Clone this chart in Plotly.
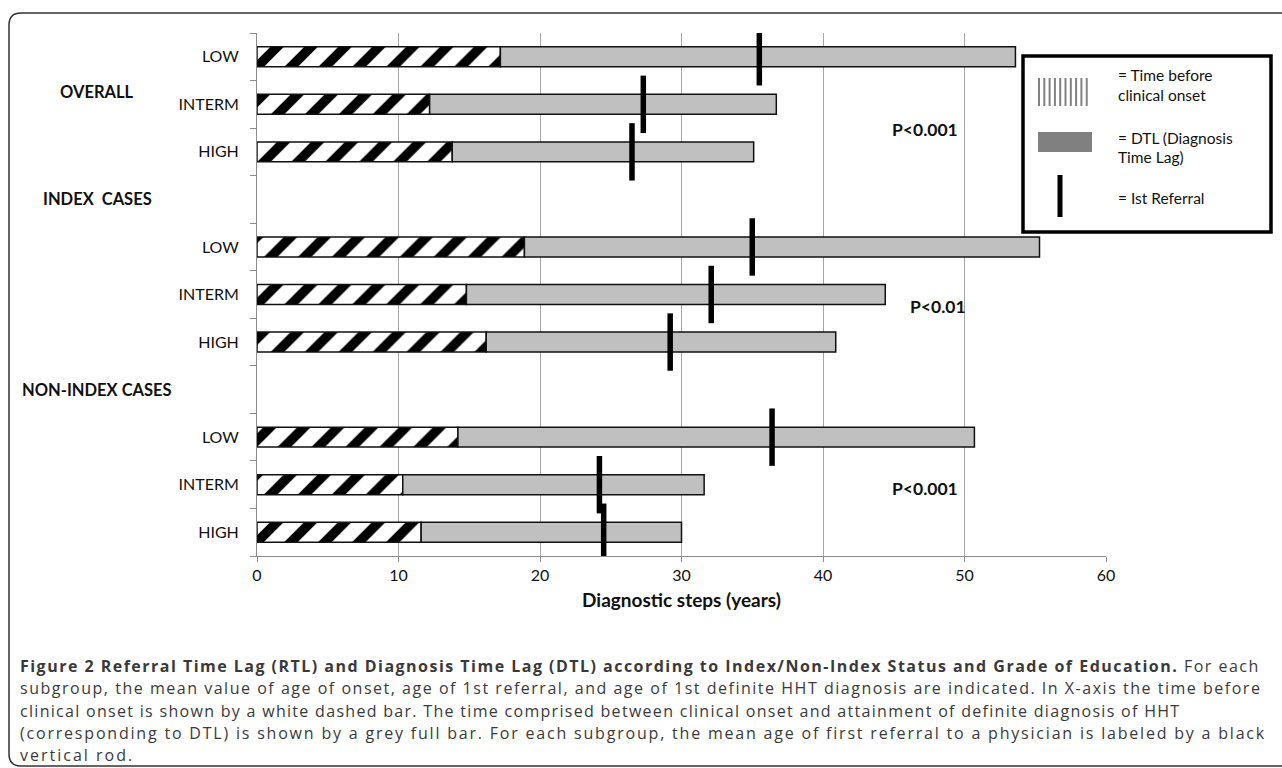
import plotly.graph_objects as go

# ---------------- data ----------------
groups = ["OVERALL", "INDEX  CASES", "NON-INDEX CASES"]
levels = ["LOW", "INTERM", "HIGH"]
onset = [17.2, 12.2, 13.8, 18.9, 14.8, 16.2, 14.2, 10.3, 11.6]       # end of time before clinical onset
referral = [35.5, 27.3, 26.5, 35.0, 32.1, 29.2, 36.4, 24.2, 24.5]    # mean age of 1st referral
diagnosis = [53.6, 36.7, 35.1, 55.3, 44.4, 40.9, 50.7, 31.6, 30.0]   # mean age of definite diagnosis
pvalues = ["P<0.001", "P<0.01", "P<0.001"]
x_ticks = [0, 10, 20, 30, 40, 50, 60]

# ---------------- geometry helpers ----------------
W, H = 1282, 768
PL, PR, PT, PB = 257, 1106, 33, 556


def px(x):
    return (x - PL) / (PR - PL)


def py(y):
    return (PB - y) / (PB - PT)


ypos = []
ylab = []
for g in range(len(groups)):
    for i, lv in enumerate(levels):
        ypos.append(g * 4 + i)
        ylab.append(lv)

dtl = [d - o for d, o in zip(diagnosis, onset)]

fig = go.Figure()

fig.add_trace(go.Bar(
    y=ypos, x=onset, base=[0] * len(onset), orientation="h",
    width=0.42,
    marker=dict(color="white", line=dict(color="#111111", width=1.5),
                pattern=dict(shape="/", fgcolor="#000000", bgcolor="white",
                             size=24, solidity=0.4, fillmode="replace")),
    showlegend=False, hoverinfo="skip",
))
fig.add_trace(go.Bar(
    y=ypos, x=dtl, base=onset, orientation="h",
    width=0.42,
    marker=dict(color="#c0c0c0", line=dict(color="#111111", width=1.5)),
    showlegend=False, hoverinfo="skip",
))
fig.add_trace(go.Scatter(
    y=ypos, x=referral, mode="markers",
    marker=dict(symbol="line-ns", size=41, color="black",
                line=dict(color="black", width=5.5)),
    showlegend=False, hoverinfo="skip",
))

CHART_FONT = "Lato"

fig.update_layout(
    width=W, height=H,
    margin=dict(l=PL, r=W - PR, t=PT, b=H - PB),
    paper_bgcolor="white", plot_bgcolor="white",
    barmode="overlay",
    font=dict(family=CHART_FONT, size=16, color="#111111"),
    xaxis=dict(
        range=[0, 60], tickvals=x_ticks, showgrid=True, gridcolor="#a6a6a6", gridwidth=1,
        zeroline=False, showline=True, linecolor="#8c8c8c", linewidth=1,
        ticks="outside", ticklen=5, tickcolor="#8c8c8c",
        tickfont=dict(family=CHART_FONT, size=16, color="#111111"),
        title=dict(text="<b>Diagnostic steps (years)</b>", standoff=10,
                   font=dict(family=CHART_FONT, size=19, color="#111111")),
    ),
    yaxis=dict(
        range=[10.5, -0.5], tickvals=ypos, ticktext=ylab, ticks="",
        showgrid=False, zeroline=False, showline=True, linecolor="#8c8c8c", linewidth=1,
        ticklabelstandoff=14,
        tickfont=dict(family=CHART_FONT, size=16, color="#111111"),
        minor=dict(tickvals=[k + 0.5 for k in range(-1, 11)], ticks="outside",
                   ticklen=6, tickcolor="#8c8c8c", showgrid=False),
    ),
)

ann = []
# group labels
group_y = [0.74, 3.0, 7.0]
for gname, gy in zip(groups, group_y):
    ann.append(dict(x=px(97), xref="paper", y=gy, yref="y", text="<b>%s</b>" % gname,
                    showarrow=False, xanchor="center", yanchor="middle",
                    font=dict(family=CHART_FONT, size=16.5, color="#111111")))
# p values
p_pos = [(47.2, 1.54), (48.1, 5.26), (47.2, 9.07)]
for t, (xx, yy) in zip(pvalues, p_pos):
    ann.append(dict(x=xx, xref="x", y=yy, yref="y", text="<b>%s</b>" % t, showarrow=False,
                    xanchor="center", yanchor="middle",
                    font=dict(family=CHART_FONT, size=17.5, color="#111111")))

# legend box texts
leg_text = [("= Time before", 75), ("clinical onset", 95), ("= DTL (Diagnosis", 138),
            ("Time Lag)", 157), ("= Ist Referral", 198)]
for t, yy in leg_text:
    ann.append(dict(x=px(1116), xref="paper", y=py(yy), yref="paper", text=t, showarrow=False,
                    xanchor="left", yanchor="middle",
                    font=dict(family=CHART_FONT, size=15.5, color="#111111")))

# caption
cap_lines = [
    "<b>Figure 2 Referral Time Lag (RTL) and Diagnosis Time Lag (DTL) according to Index/Non-Index Status and Grade of Education.</b> For each",
    "subgroup, the mean value of age of onset, age of 1st referral, and age of 1st definite HHT diagnosis are indicated. In X-axis the time before",
    "clinical onset is shown by a white dashed bar. The time comprised between clinical onset and attainment of definite diagnosis of HHT",
    "(corresponding to DTL) is shown by a grey full bar. For each subgroup, the mean age of first referral to a physician is labeled by a black",
    "vertical rod.",
]
cap_y = [666, 688, 711, 733, 755]
cap_spacing = [1.48, 1.52, 1.3, 1.8, 2.0]
for t, yy, ls in zip(cap_lines, cap_y, cap_spacing):
    ann.append(dict(x=px(18), xref="paper", y=py(yy), yref="paper",
                    text="<span style='letter-spacing:%.2fpx'>%s</span>" % (ls, t),
                    showarrow=False, xanchor="left", yanchor="middle",
                    font=dict(family="Open Sans", size=16, color="#3a3a3a")))

fig.update_layout(annotations=ann)

shapes = []
# outer rounded frame (open on the right)
r = 12
fx0, fy0, fy1, fxr = 9, 13, 766, 1300
path = ("M %f,%f L %f,%f Q %f,%f %f,%f L %f,%f Q %f,%f %f,%f L %f,%f" % (
    px(fxr), py(fy0), px(fx0 + r), py(fy0), px(fx0), py(fy0), px(fx0), py(fy0 + r),
    px(fx0), py(fy1 - r), px(fx0), py(fy1), px(fx0 + r), py(fy1), px(fxr), py(fy1)))
shapes.append(dict(type="path", path=path, xref="paper", yref="paper",
                   line=dict(color="#333333", width=1.5), layer="above"))
# legend box
shapes.append(dict(type="rect", xref="paper", yref="paper", x0=px(1023), x1=px(1271),
                   y0=py(232), y1=py(56), fillcolor="white", line=dict(color="black", width=3.5),
                   layer="above"))
# legend icon: vertical stripes
for k in range(10):
    xx = 1039 + k * 5.3
    shapes.append(dict(type="line", xref="paper", yref="paper", x0=px(xx), x1=px(xx),
                       y0=py(106), y1=py(78), line=dict(color="#808080", width=2), layer="above"))
# legend icon: grey rectangle
shapes.append(dict(type="rect", xref="paper", yref="paper", x0=px(1038), x1=px(1092),
                   y0=py(152), y1=py(132), fillcolor="#808080", line=dict(width=0), layer="above"))
# legend icon: black rod
shapes.append(dict(type="line", xref="paper", yref="paper", x0=px(1060), x1=px(1060),
                   y0=py(217), y1=py(175), line=dict(color="black", width=5), layer="above"))
fig.update_layout(shapes=shapes)

fig.write_html("out.html", config={"displayModeBar": False},
               post_script="document.body.style.margin='0px';document.body.style.overflow='hidden';")
